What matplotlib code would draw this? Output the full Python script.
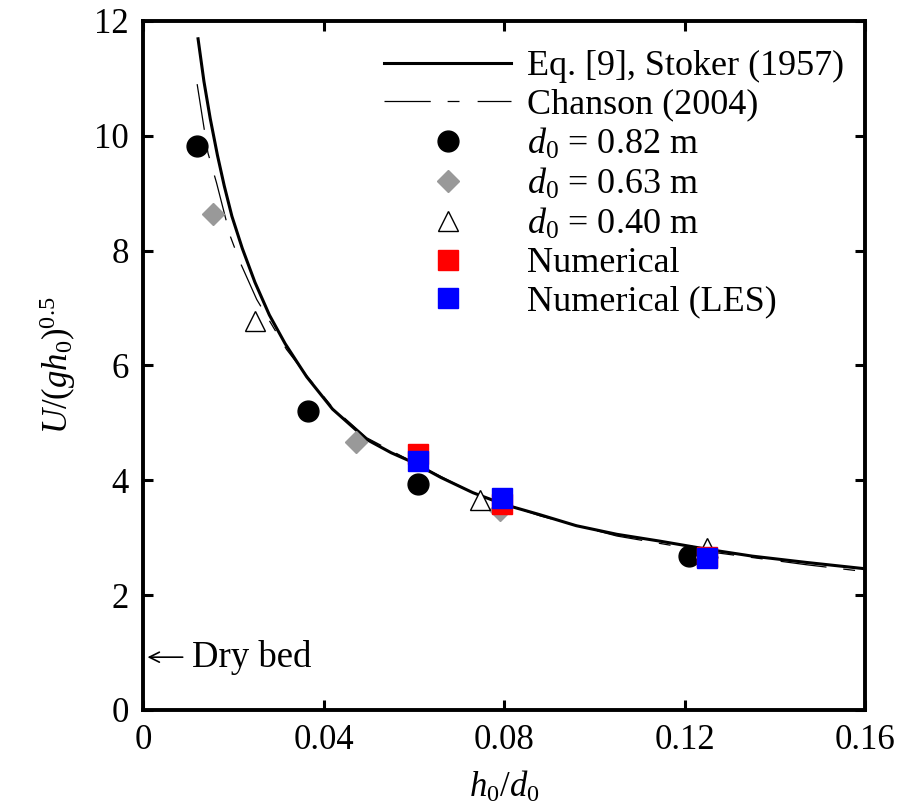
import matplotlib
matplotlib.use("Agg")
import matplotlib.pyplot as plt

plt.rcParams['font.family'] = ['Liberation Serif', 'DejaVu Serif']
plt.rcParams['mathtext.fontset'] = 'custom'
plt.rcParams['mathtext.rm'] = 'Liberation Serif'
plt.rcParams['mathtext.it'] = 'Liberation Serif:italic'

# curves
stoker_x = [0.0122, 0.0135, 0.0149, 0.0165, 0.0180, 0.0197, 0.0220, 0.0248, 0.0280,
            0.0315, 0.0348, 0.0363, 0.0420, 0.0496, 0.0550, 0.0599, 0.0660, 0.0731,
            0.0800, 0.0880, 0.0960, 0.1050, 0.1146, 0.1250, 0.1350, 0.1470, 0.1600]
stoker_y = [11.69, 10.95, 10.30, 9.66, 9.13, 8.60, 8.04, 7.45, 6.88,
            6.38, 5.98, 5.80, 5.24, 4.71, 4.48, 4.31, 4.05, 3.785,
            3.58, 3.40, 3.21, 3.06, 2.94, 2.80, 2.68, 2.57, 2.46]
chanson_x = [0.0120, 0.0144, 0.0163, 0.0193, 0.0215, 0.0252, 0.0318, 0.0363, 0.0420,
             0.0496, 0.0600, 0.0731, 0.0880, 0.1050, 0.1250, 0.1470, 0.1600]
chanson_y = [10.90, 9.70, 9.18, 8.26, 7.80, 7.15, 6.28, 5.82, 5.27,
             4.74, 4.31, 3.78, 3.38, 3.03, 2.76, 2.53, 2.41]

# experiments
d082_x = [0.0120, 0.0366, 0.0609, 0.1210]
d082_y = [9.82, 5.20, 3.94, 2.69]
d063_x = [0.0155, 0.0472, 0.0791, 0.1250]
d063_y = [8.63, 4.66, 3.49, 2.66]
d040_x = [0.0248, 0.0747, 0.1250]
d040_y = [6.77, 3.66, 2.83]
num_x = [0.0609, 0.0795, 0.1250]
num_y = [4.45, 3.58, 2.67]
les_x = [0.0609, 0.0795, 0.1250]
les_y = [4.34, 3.70, 2.65]

fig = plt.figure(figsize=(9.19, 8.07), dpi=100)
ax = fig.add_axes([0.1556, 0.1202, 0.7857, 0.8538])

ax.plot(stoker_x, stoker_y, color='black', lw=2.2, label='Eq. [9], Stoker (1957)', zorder=3)
ax.plot(chanson_x, chanson_y, color='black', lw=0.9, dashes=(37, 13.5, 9.5, 14.5),
        label='Chanson (2004)', zorder=3)
ax.plot(d082_x, d082_y, 'o', color='black', ms=15, lw=0, label=r'$d_0$ = 0.82 m', zorder=4)
ax.plot(d063_x, d063_y, 'D', color='#999999', ms=11, lw=0, label=r'$d_0$ = 0.63 m', zorder=4)
ax.plot(d040_x, d040_y, '^', mfc='white', mec='black', mew=1.0, ms=14, lw=0,
        label=r'$d_0$ = 0.40 m', zorder=4)
ax.plot(num_x, num_y, 's', color='#ff0000', ms=15, lw=0, label='Numerical', zorder=5)
ax.plot(les_x, les_y, 's', color='#0000ff', ms=15, lw=0, label='Numerical (LES)', zorder=6)

ax.set_xlim(0, 0.16)
ax.set_ylim(0, 12)
ax.set_xticks([0, 0.04, 0.08, 0.12, 0.16])
ax.set_xticklabels(['0', '0.04', '0.08', '0.12', '0.16'])
ax.set_yticks([0, 2, 4, 6, 8, 10, 12])
ax.tick_params(direction='in', length=7, width=2.2, labelsize=25, top=True, right=True, pad=10)
for s in ax.spines.values():
    s.set_linewidth(2.8)

ax.set_xlabel(r'$h_0/d_0$', fontsize=25, labelpad=9)
ax.set_ylabel(r'$U/(gh_0)^{0.5}$', fontsize=25, labelpad=12)

ax.annotate('', xy=(0.0010, 0.92), xytext=(0.0088, 0.92),
            arrowprops=dict(arrowstyle='->', lw=1.2, color='black',
                            shrinkA=0, shrinkB=0, mutation_scale=18))
ax.text(0.0108, 0.92, 'Dry bed', fontsize=26.5, va='center', ha='left')

ax.legend(loc='upper right', frameon=False, fontsize=26, handlelength=3.5,
          handletextpad=0.45, labelspacing=0.14, borderaxespad=0.0,
          bbox_to_anchor=(0.991, 0.979))

fig.savefig('out.png', dpi=100)
